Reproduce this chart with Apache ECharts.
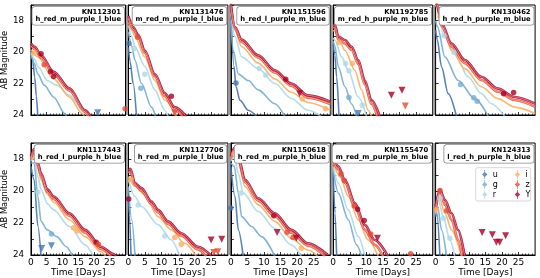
<!DOCTYPE html>
<html><head><meta charset="utf-8">
<script src="https://cdn.jsdelivr.net/npm/echarts@6/dist/echarts.min.js"></script>
<style>html,body{margin:0;padding:0;background:#fff}#c{width:540px;height:278px}</style>
</head><body><div id="c"></div>
<script>
const bands = ['u','g','r','i','z','Y'];
const bandColors = ['#4575b4','#74add1','#abd9e9','#fdae61','#e34a33','#a50026'];
const bandInner = [null, null, null, null, '#f4a08c', '#dc7489'];
const panelIds = ['KN112301','KN1131476','KN1151596','KN1192785','KN130462','KN1117443','KN1127706','KN1150618','KN1155470','KN124313'];
const panelModels = ['h_red_m_purple_l_blue','m_red_m_purple_l_blue','h_red_l_purple_m_blue','m_red_h_purple_m_blue','h_red_h_purple_m_blue','h_red_l_purple_h_blue','h_red_m_purple_l_blue','h_red_m_purple_h_blue','m_red_m_purple_m_blue','l_red_h_purple_h_blue'];
const xTicks = [0,5,10,15,20,25];
const yTicks = [18,20,22,24];

// model light curves per panel, order [u, g, r, i, z, Y], points [day, mag]
const curves0 = [
  [[0,20.2],[0.5,20.4],[1.2,21.6],[1.7,22.8],[2.2,24.2]],
  [[0,20.1],[1,20.7],[2.2,21.4],[4.2,22.1],[7.2,22.85],[10.7,23.9],[11.5,24.2]],
  [[0,20.0],[1,20.4],[2.2,20.9],[5.2,21.8],[8.2,22.1],[12.2,22.75],[17.2,23.9],[18,24.1]],
  [[0,19.85],[2.2,20.3],[7.2,21.7],[12.2,22.85],[16.2,23.9],[17,24.1]],
  [[0,19.6],[1.2,19.8],[3.2,20.35],[7.2,21.4],[12.2,22.45],[17.2,23.8],[18.5,24.1]],
  [[0,19.45],[1.2,19.66],[3.2,20.2],[7.2,21.25],[12.2,22.3],[17.2,23.7],[19,24.1]]
];
const curves1 = [
  [[0,19.7],[0.5,20.6],[1.45,22.0],[2.45,24.1]],
  [[0,18.7],[1,19.6],[1.95,20.5],[3.95,22.0],[6.95,23.5],[8.2,24.1]],
  [[0,18.3],[1,19.0],[1.95,19.66],[4.95,20.9],[7.95,22.4],[10.95,23.7],[12,24.1]],
  [[0,18.1],[1,18.6],[1.95,19.0],[4.95,20.3],[7.95,21.8],[10.95,23.05],[14.5,24.1]],
  [[0,17.85],[1.45,18.55],[2.95,19.05],[4.95,20.05],[7.95,21.55],[10.95,22.8],[13.95,23.7],[16.5,24.1]],
  [[0,17.7],[1.45,18.4],[2.95,18.9],[4.95,19.9],[7.95,21.4],[10.95,22.6],[13.95,23.5],[17.5,24.1]]
];
const curves2 = [
  [[0,17.5],[0.96,20.9],[1.56,22.2],[2.76,23.06],[5.26,23.7],[7.8,24.1]],
  [[0,17.96],[0.76,19.9],[2.26,21.4],[5.26,21.8],[8.26,22.4],[13.26,23.28],[16.3,24.1]],
  [[0,17.5],[1.26,19.0],[3.26,20.3],[8.26,21.05],[13.26,22.0],[18.26,22.95],[23.26,23.7],[27.3,24.1]],
  [[0,17.3],[1.26,18.6],[3.26,19.66],[8.26,20.7],[13.26,21.7],[18.26,22.55],[23.26,23.2],[30,23.7]],
  [[0,17.1],[1.26,18.5],[3.26,19.35],[8.26,20.35],[13.26,21.3],[18.26,22.15],[23.26,22.9],[30,23.3]],
  [[0,16.9],[1.26,18.4],[3.26,19.2],[8.26,20.2],[13.26,21.15],[18.26,22.0],[23.26,22.75],[30,23.15]]
];
const curves3 = [
  [[0,19.5],[0.5,20.2],[1.04,21.57],[1.74,24.1]],
  [[0,19.3],[0.5,19.6],[1.54,20.94],[3.54,22.2],[5.54,23.3],[7.1,24.1]],
  [[0,19.1],[0.5,19.23],[2.54,20.3],[4.54,21.15],[7.54,22.85],[10.1,24.1]],
  [[0,18.6],[0.5,18.7],[2.04,19.34],[3.54,19.9],[6.54,21.15],[8.54,22.4],[10.54,23.7],[11.6,24.1]],
  [[0,18.4],[0.5,18.45],[1.54,19.2],[3.54,19.45],[5.54,19.85],[7.54,20.75],[9.54,22.05],[11.54,23.3],[13.3,24.1]],
  [[0,18.3],[0.5,18.28],[1.54,19.0],[3.54,19.23],[5.54,19.66],[7.54,20.5],[9.54,21.8],[11.54,23.06],[14.1,24.1]]
];
const curves4 = [
  [[0,18.6],[0.5,19.2],[1.8,20.94],[3.8,22.64],[6.3,24.1]],
  [[0,18.0],[0.6,18.4],[2.8,20.3],[6.8,21.8],[11.8,22.96],[15.9,24.1]],
  [[0,17.0],[0.8,17.3],[2.3,18.9],[5.8,20.08],[9.8,21.57],[13.8,22.64],[16.8,23.28],[20.9,24.1]],
  [[0,16.5],[0.8,17.0],[2.3,18.4],[4.8,19.9],[8.8,21.05],[13.8,22.2],[18.8,22.96],[23.8,23.5],[30,23.9]],
  [[0,16.3],[0.5,17.0],[1.8,18.35],[4.8,19.65],[8.8,20.7],[13.8,21.77],[18.8,22.52],[23.8,23.05],[30,23.48]],
  [[0,16.2],[0.4,17.0],[1.8,18.17],[4.8,19.45],[8.8,20.5],[13.8,21.57],[18.8,22.32],[23.8,22.85],[30,23.28]]
];
const curves5 = [
  [[0,18.46],[1.0,19.3],[2.2,22.2],[3.2,24.1]],
  [[0,18.25],[1.0,18.25],[2.2,20.34],[3.2,21.9],[5.2,22.43],[8.2,22.85],[11.2,23.48],[13.3,24.1]],
  [[0,18.15],[1.0,17.94],[2.2,19.1],[3.2,19.9],[5.2,20.8],[7.2,21.18],[12.2,22.22],[17.2,23.37],[19.8,24.1]],
  [[0,18.04],[1.0,17.73],[2.2,18.6],[3.2,19.3],[5.2,20.2],[7.2,20.7],[12.2,21.8],[17.2,22.85],[22.2,23.8],[23.8,24.1]],
  [[0,17.95],[1.0,17.52],[2.2,18.4],[3.2,19.05],[5.2,20.05],[7.2,20.5],[12.2,21.55],[17.2,22.6],[22.2,23.62],[25.5,24.1]],
  [[0,17.84],[1.0,17.38],[2.2,18.25],[3.2,18.9],[5.2,19.9],[7.2,20.34],[12.2,21.39],[17.2,22.43],[22.2,23.48],[26.2,23.94],[27,24.1]]
];
const curves6 = [
  [[0,20.34],[0.3,21.5],[0.8,24.1]],
  [[0,19.72],[1.0,21.8],[2.0,24.1]],
  [[0,19.3],[1.95,20.34],[3.95,20.97],[8.95,22.1],[12.95,23.06],[15.5,24.1]],
  [[0,19.1],[1.95,19.7],[4.95,20.24],[8.95,21.6],[12.95,22.43],[16.95,23.27],[20.5,24.1]],
  [[0,18.85],[0.6,18.8],[1.95,19.6],[3.95,19.98],[6.95,20.82],[8.95,21.34],[11.95,22.06],[15.95,22.8],[20.95,23.65],[23.5,24.1]],
  [[0,18.7],[0.6,18.62],[1.95,19.5],[3.95,19.82],[6.95,20.66],[8.95,21.18],[11.95,21.9],[15.95,22.64],[20.95,23.48],[25,24.05]]
];
const curves7 = [
  [[0,18.46],[1.26,20.34],[2.26,22.43],[3.76,24.1]],
  [[0,18.25],[1.06,18.46],[2.26,20.13],[3.26,21.6],[6.26,22.22],[9.26,22.85],[13.3,24.1]],
  [[0,18.15],[1.06,17.84],[2.26,18.88],[3.76,20.13],[8.26,21.28],[13.26,22.33],[18.26,23.37],[21.3,24.1]],
  [[0,18.05],[1.06,17.52],[2.26,18.25],[4.26,19.72],[8.26,20.87],[13.26,21.9],[18.26,22.96],[23.26,23.69],[26.3,24.1]],
  [[0,17.95],[1.06,17.4],[2.26,18.0],[4.26,19.45],[8.26,20.6],[13.26,21.58],[18.26,22.6],[23.26,23.42],[28.5,24.1]],
  [[0,17.84],[1.06,17.31],[2.26,17.84],[4.26,19.3],[8.26,20.45],[13.26,21.39],[18.26,22.43],[23.26,23.27],[29.26,24.0]]
];
const curves8 = [
  [[0,18.88],[0.54,21.39],[1.04,24.1]],
  [[0,18.67],[1.54,20.13],[4.54,21.8],[7.04,23.37],[8.6,24.1]],
  [[0,18.46],[1.54,19.5],[4.54,21.18],[7.54,22.85],[9.6,24.1]],
  [[0,18.25],[2.04,19.1],[4.54,20.34],[7.54,21.8],[10.54,23.06],[13.6,24.1]],
  [[0,18.05],[1.54,18.67],[3.54,19.5],[6.54,20.97],[9.54,22.43],[12.54,23.37],[15.1,24.1]],
  [[0,17.84],[1.54,18.46],[3.54,19.3],[6.54,20.76],[9.54,22.12],[12.54,23.06],[16.6,24.1]]
];
const curves9 = [
  [[0,21.6],[0.4,21.39],[1.3,24.1]],
  [[0,21.5],[0.6,20.97],[1.8,22.43],[3.3,24.1]],
  [[0,21.39],[0.8,20.55],[2.3,21.6],[4.3,23.06],[5.8,24.1]],
  [[0,21.28],[1.0,20.34],[2.8,21.39],[4.8,22.43],[7.8,24.1]],
  [[0,21.18],[1.32,19.97],[2.8,20.87],[4.8,21.8],[6.8,23.06],[8.0,24.1]],
  [[0,20.97],[1.32,19.93],[2.8,20.55],[4.8,21.39],[6.8,22.43],[8.8,24.1]]
];

// detections [band, day, mag]
const det0 = [['i',1.0,20.05],['Y',3.2,20.1],['z',4.2,20.8],['Y',6.2,21.25],['Y',7.2,21.55]];
const det1 = [['u',0.15,19.45],['z',2.75,19.06],['r',1.75,19.77],['r',4.95,21.4],['g',3.75,22.3],['Y',12.95,22.8],['z',-1.0,23.6]];
const det2 = [['u',1.56,21.96],['r',8.56,21.04],['r',10.56,21.47],['Y',16.56,21.72],['i',21.56,22.98],['i',28.56,23.6]];
const det3 = [['i',1.74,19.38],['r',3.74,20.72],['r',4.74,21.19],['i',5.74,20.72],['g',4.74,22.89],['r',8.74,23.38]];
const det4 = [['i',1.3,17.75],['r',2.52,18.96],['r',5.52,20.02],['g',7.52,22.06],['g',11.52,22.91],['g',12.52,23.13],['Y',20.52,22.64],['Y',23.52,22.57]];
const det5 = [['i',1.4,17.9],['r',2.2,20.07],['g',6.5,22.68],['i',13.5,22.29],['i',14.7,22.5],['Y',20.7,23.2],['z',21.4,23.33]];
const det6 = [['Y',0.1,20.5],['i',0.75,19.26],['r',2.95,20.87],['r',10.95,22.81],['i',13.95,22.9],['i',15.95,23.33]];
const det7 = [['u',0,21.07],['r',3.06,20.13],['i',1.06,17.67],['Y',12.96,21.54],['z',16.96,22.58],['z',18.76,22.91],['i',21.26,23.58]];
const det8 = [['z',2.34,18.92],['z',3.34,19.34],['z',6.34,20.93],['Y',7.34,21.14],['Y',9.34,21.85],['z',11.34,22.68],['z',23.34,23.92]];
const det9 = [['z',1.32,19.97],['i',0.32,21.18],['r',1.32,20.45],['z',3.32,21.24],['r',2.32,21.7],['r',4.32,22.96]];

// upper limits [band, day, mag]
const lim0 = [['u',21.2,23.86]];
const lim1 = [['z',13.95,23.87]];
const lim2 = [['Y',20.76,22.64]];
const lim3 = [['u',7.54,23.9],['Y',17.54,22.74],['Y',20.74,22.43],['z',21.74,23.43]];
const lim4 = [];
const lim5 = [['u',3.4,23.6],['u',6.5,23.42]];
const lim6 = [['Y',24.95,23.06],['Y',28.15,23.02],['z',25.75,23.85],['z',26.95,23.8]];
const lim7 = [['Y',13.96,22.6],['Y',19.76,22.96]];
const lim8 = [['Y',13.34,22.96]];
const lim9 = [['Y',14.02,22.6],['Y',17.12,22.73],['Y',18.32,23.2],['Y',19.32,23.2],['Y',21.12,22.79]];

const curves = [curves0,curves1,curves2,curves3,curves4,curves5,curves6,curves7,curves8,curves9];
const dets = [det0,det1,det2,det3,det4,det5,det6,det7,det8,det9];
const lims = [lim0,lim1,lim2,lim3,lim4,lim5,lim6,lim7,lim8,lim9];

const FONT = 'DejaVu Sans';
const colStep = 102.4, gLeft0 = 26, gW = 99.5;
const rowTop = [5, 143], rowH = [110, 112];

const grids = [], xAxes = [], yAxes = [], series = [], graphics = [];
for (let p = 0; p < 10; p++) {
  const row = Math.floor(p / 5), col = p % 5;
  const left = gLeft0 + colStep * col, top = rowTop[row];
  grids.push({left: left, top: top, width: gW, height: rowH[row], show: true, borderColor: '#000', borderWidth: 1, backgroundColor: 'transparent'});
  xAxes.push({
    gridIndex: p, type: 'value', min: 0, max: 30, interval: 5,
    axisLine: {show: true, onZero: false, lineStyle: {color: '#000', width: 1}},
    axisTick: {show: true, inside: true, length: 3, lineStyle: {color: '#000', width: 0.8},
               customValues: xTicks},
    minorTick: {show: true, splitNumber: 5, length: 1.6, lineStyle: {color: '#000', width: 0.6}},
    splitLine: {show: false},
    axisLabel: {show: row === 1, customValues: xTicks, fontSize: 9, color: '#000', margin: 3, fontFamily: FONT},
    name: row === 1 ? 'Time [Days]' : '', nameLocation: 'middle', nameGap: 13,
    nameTextStyle: {fontSize: 9, color: '#000', fontFamily: FONT}
  });
  yAxes.push({
    gridIndex: p, type: 'value', min: 17, max: 24, interval: 1, inverse: true,
    axisLine: {show: true, onZero: false, lineStyle: {color: '#000', width: 1}},
    axisTick: {show: true, inside: true, length: 3, lineStyle: {color: '#000', width: 0.8}},
    splitLine: {show: false},
    axisLabel: {show: col === 0, customValues: yTicks, fontSize: 8.7, color: '#000', margin: 7, fontFamily: FONT},
    name: col === 0 ? 'AB Magnitude' : '', nameLocation: 'middle', nameGap: 19,
    nameTextStyle: {fontSize: 8.4, color: '#000', fontFamily: FONT}
  });
  for (let b = 0; b < 6; b++) {
    const outlined = bandInner[b] !== null;
    series.push({
      type: 'line', name: 'model_' + p + '_' + bands[b], xAxisIndex: p, yAxisIndex: p,
      data: curves[p][b], showSymbol: false, smooth: 0.3, smoothMonotone: 'x', silent: true, z: 2,
      lineStyle: {color: bandColors[b], width: outlined ? 2.6 : 1.6, opacity: outlined ? 0.85 : 0.9}
    });
    if (outlined) {
      series.push({
        type: 'line', name: 'modelin_' + p + '_' + bands[b], xAxisIndex: p, yAxisIndex: p,
        data: curves[p][b], showSymbol: false, smooth: 0.3, smoothMonotone: 'x', silent: true, z: 3,
        lineStyle: {color: bandInner[b], width: 1.0, opacity: 1}
      });
    }
  }
  series.push({
    type: 'scatter', name: 'det_' + p, xAxisIndex: p, yAxisIndex: p, symbol: 'circle', symbolSize: 5.5,
    clip: false, silent: true, z: 4,
    data: dets[p].map(d => ({value: [d[1], d[2]], itemStyle: {color: bandColors[bands.indexOf(d[0])]}}))
  });
  series.push({
    type: 'scatter', name: 'lim_' + p, xAxisIndex: p, yAxisIndex: p, symbol: 'triangle', symbolRotate: 180, symbolSize: 7,
    clip: false, silent: true, z: 4,
    data: lims[p].map(d => ({value: [d[1], d[2]], itemStyle: {color: bandColors[bands.indexOf(d[0])]}}))
  });
  graphics.push({
    type: 'text', z: 100,
    style: {
      text: panelIds[p] + '\n' + panelModels[p], x: left + gW - 1.5, y: top + 2,
      align: 'right', verticalAlign: 'top', font: 'bold 6.8px "DejaVu Sans"', fill: '#000',
      lineHeight: 7.4, backgroundColor: '#fff', borderColor: '#888', borderWidth: 0.8, borderRadius: 2.5,
      padding: [1.5, 3, 1.5, 3]
    }
  });
  if (col < 4) {
    graphics.push({type: 'rect', z: 1, shape: {x: left + gW + 0.5, y: top, width: colStep - gW - 1, height: rowH[row]},
      style: {fill: '#999'}});
  }
}
// legend dummy series
for (let b = 0; b < 6; b++) {
  series.push({type: 'scatter', name: bands[b], xAxisIndex: 9, yAxisIndex: 9, data: [], itemStyle: {color: bandColors[b]}});
}
graphics.push({type: 'rect', z: 0, shape: {x: 475.7, y: 167.7, width: 55, height: 33.3, r: 2},
  style: {fill: '#fff', stroke: '#ccc', lineWidth: 0.8}});

const icon = 'path://M2.6,0H3.4V10H2.6Z M3,2L6,5L3,8L0,5Z';
const legendBase = {orient: 'vertical', itemWidth: 6, itemHeight: 9, itemGap: 1, padding: 0, icon: icon,
  textStyle: {fontSize: 8, color: '#000', fontFamily: FONT, padding: 0}, selectedMode: false};

const chart = echarts.init(document.getElementById('c'), null, {renderer: 'canvas'});
chart.setOption({
  animation: false,
  backgroundColor: '#fff',
  textStyle: {fontFamily: FONT},
  grid: grids, xAxis: xAxes, yAxis: yAxes, series: series,
  legend: [
    Object.assign({}, legendBase, {data: ['u','g','r'], left: 482, top: 170}),
    Object.assign({}, legendBase, {data: ['i','z','Y'], left: 514.7, top: 170})
  ],
  graphic: {elements: graphics}
});
</script></body></html>
